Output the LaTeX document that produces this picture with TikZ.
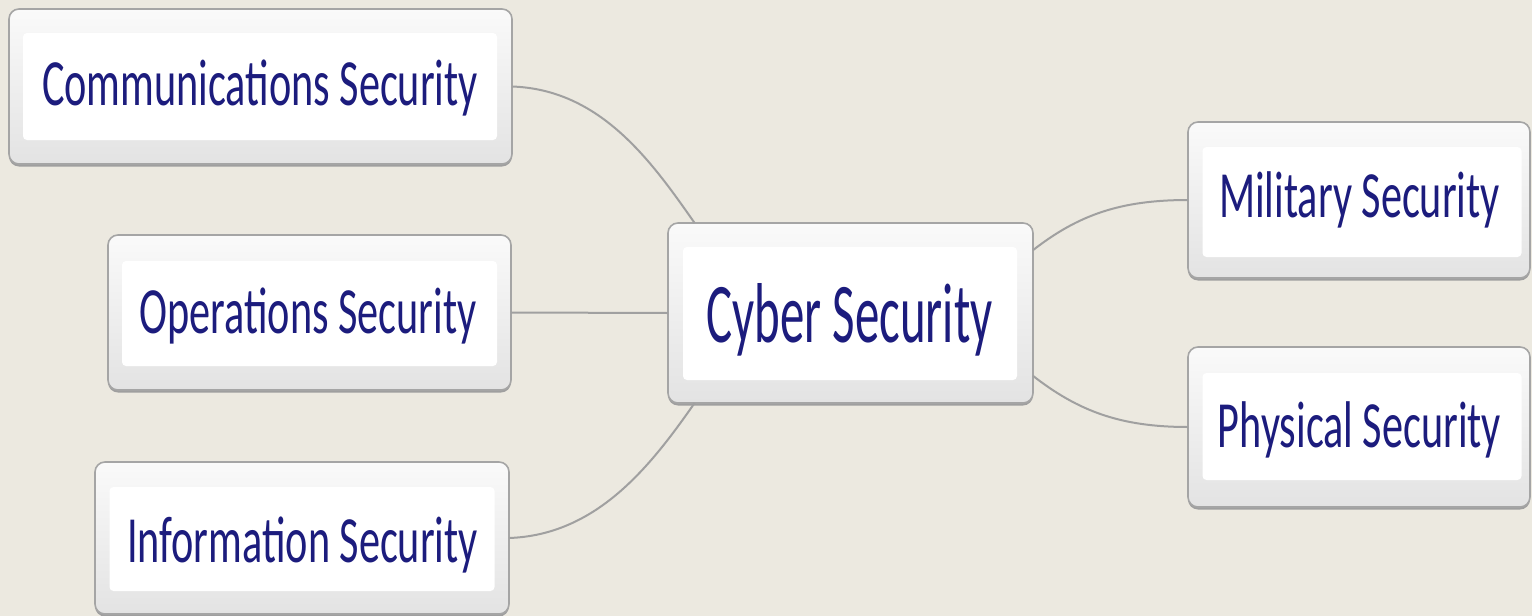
\documentclass[tikz,border=0pt]{standalone}
\usepackage{fontspec}
\newfontfamily\boxfont[FakeStretch=0.64]{Carlito}
\newfontfamily\corefont[FakeStretch=0.575]{Carlito}
\usetikzlibrary{shadows}
\definecolor{bgbeige}{RGB}{236,233,224}
\definecolor{linkgray}{RGB}{160,160,160}
\definecolor{framegray}{RGB}{165,165,165}
\definecolor{navytext}{RGB}{28,28,125}
\begin{document}
\begin{tikzpicture}[x=1pt,y=-1pt,
  outerbox/.style={rectangle, rounded corners=10pt, draw=framegray, line width=1.6pt,
    top color=gray!4, bottom color=gray!22,
    drop shadow={shadow xshift=0pt, shadow yshift=-2.5pt, fill=gray!75, opacity=1, shadow scale=1},
    inner sep=0pt, outer sep=0pt},
  innerbox/.style={rectangle, rounded corners=4pt, fill=white, inner sep=0pt},
  smalltext/.style={font=\boxfont\fontsize{66}{70}\selectfont, text=navytext, anchor=base, inner sep=0pt},
  bigtext/.style={font=\corefont\fontsize{85}{90}\selectfont, text=navytext, anchor=base, inner sep=0pt},
  link/.style={draw=linkgray, line width=2pt}
]
\useasboundingbox (0,0) rectangle (1532,616);
\fill[bgbeige] (0,0) rectangle (1532,616);

% Communications Security
\node[outerbox, minimum width=503pt, minimum height=155pt] (comm) at (260.5,86.5) {};
\node[innerbox, minimum width=474pt, minimum height=107pt] (comm-in) at (260,86.5) {};
\node[smalltext] (comm-t) at (260,105) {Communications Security};

% Operations Security
\node[outerbox, minimum width=403pt, minimum height=155pt] (ops) at (309.5,312.5) {};
\node[innerbox, minimum width=375pt, minimum height=105pt] (ops-in) at (309.5,313.5) {};
\node[smalltext] (ops-t) at (308,333) {Operations Security};

% Information Security
\node[outerbox, minimum width=414pt, minimum height=152pt] (info) at (302,538) {};
\node[innerbox, minimum width=385pt, minimum height=104pt] (info-in) at (302,539) {};
\node[smalltext] (info-t) at (302.5,562) {Information Security};

% Cyber Security
\node[outerbox, minimum width=365pt, minimum height=180pt] (cyber) at (850.5,313) {};
\node[innerbox, minimum width=334pt, minimum height=133pt] (cyber-in) at (850,313.5) {};
\node[bigtext] (cyber-t) at (849.5,342) {Cyber Security};

% Military Security
\node[outerbox, minimum width=342pt, minimum height=156pt] (mil) at (1359,200) {};
\node[innerbox, minimum width=319pt, minimum height=110pt] (mil-in) at (1362,202) {};
\node[smalltext] (mil-t) at (1359.5,217) {Military Security};

% Physical Security
\node[outerbox, minimum width=342pt, minimum height=160pt] (phys) at (1359,427) {};
\node[innerbox, minimum width=319pt, minimum height=107pt] (phys-in) at (1362,426.5) {};
\node[smalltext] (phys-t) at (1359.5,447) {Physical Security};

% connectors
\draw[link] (comm.east) .. controls +(88,3) and +(-44,-63) .. (cyber.150);
\draw[link] (ops.east) -- (cyber.west);
\draw[link] (info.east) .. controls +(88,-3) and +(-44,63) .. (cyber.210);
\draw[link] (cyber.19) .. controls +(45,-35) and +(-68,0) .. (mil.west);
\draw[link] (cyber.-19) .. controls +(45,35) and +(-68,0) .. (phys.west);
\end{tikzpicture}
\end{document}
